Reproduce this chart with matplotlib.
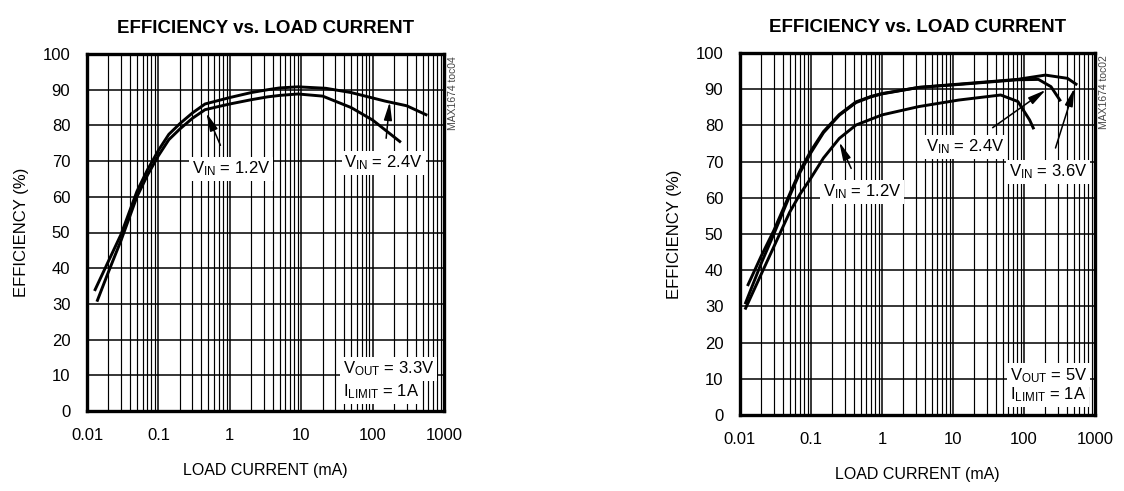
import numpy as np
import matplotlib
matplotlib.use('Agg')
import matplotlib.pyplot as plt
from matplotlib.ticker import LogLocator, NullFormatter, FixedLocator

#### Data ####

# left panel, VOUT = 3.3V
left_x_24 = [0.013, 0.02, 0.03, 0.05, 0.07, 0.1, 0.14, 0.2, 0.3, 0.45, 0.7, 1, 2, 3.4, 5, 9, 22, 50, 150, 300, 560]
left_y_24 = [34, 42, 49.5, 61.5, 67.5, 73, 77.5, 80.5, 83.5, 86, 87, 87.8, 89.2, 90, 90.5, 90.8, 90.4, 89.2, 86.8, 85.5, 83]
left_x_12 = [0.014, 0.02, 0.03, 0.05, 0.07, 0.1, 0.14, 0.2, 0.3, 0.45, 0.7, 1, 2, 3.4, 5, 9, 20, 50, 100, 240]
left_y_12 = [31, 39, 47.8, 60, 66, 71.5, 76, 79, 82, 84.4, 85.3, 86, 87.2, 88, 88.4, 88.8, 88.2, 85, 81.5, 75.5]

# right panel, VOUT = 5V
right_x_36 = [0.013, 0.02, 0.03, 0.05, 0.07, 0.1, 0.15, 0.25, 0.43, 0.7, 1, 3.3, 12, 80, 200, 410, 540]
right_y_36 = [36, 44, 51, 61, 67.5, 73, 78.3, 83, 86.5, 88, 88.8, 90.5, 91.4, 92.7, 93.9, 93, 91.4]
right_x_24 = [0.012, 0.02, 0.03, 0.05, 0.07, 0.1, 0.15, 0.25, 0.43, 0.7, 1, 3.3, 12, 80, 160, 240, 320]
right_y_24 = [31, 42, 50, 60.5, 67, 72.5, 78, 82.8, 86.3, 87.9, 88.7, 90.5, 91.3, 92.6, 92.7, 90.7, 87]
right_x_12 = [0.012, 0.02, 0.03, 0.05, 0.07, 0.1, 0.15, 0.25, 0.43, 1, 3.3, 12, 47, 82, 120, 135]
right_y_12 = [29.5, 39, 46.5, 56, 61, 65.5, 71, 76.4, 80.1, 82.9, 85.2, 87, 88.4, 86.6, 81.5, 79.3]

x_ticks = [0.01, 0.1, 1, 10, 100, 1000]
x_ticklabels = ['0.01', '0.1', '1', '10', '100', '1000']
y_ticks = list(range(0, 101, 10))

title = 'EFFICIENCY vs. LOAD CURRENT'

plt.rcParams['font.family'] = ['Liberation Sans', 'DejaVu Sans']
plt.rcParams['mathtext.default'] = 'regular'

fig = plt.figure(figsize=(11.24, 4.91), dpi=100)
ax1 = fig.add_axes([87 / 1124, 80 / 491, 357 / 1124, 357 / 491])
ax2 = fig.add_axes([740 / 1124, 76 / 491, 355 / 1124, 362 / 491])

box = dict(facecolor='white', edgecolor='none', pad=2)


def setup(ax, tag):
    ax.set_xscale('log')
    ax.set_xlim(0.01, 1000)
    ax.set_ylim(0, 100)
    ax.xaxis.set_major_locator(FixedLocator(x_ticks))
    ax.set_xticks(x_ticks)
    ax.set_xticklabels(x_ticklabels)
    ax.xaxis.set_minor_locator(LogLocator(base=10, subs=np.arange(2, 10), numticks=20))
    ax.xaxis.set_minor_formatter(NullFormatter())
    ax.set_yticks(y_ticks)
    ax.tick_params(which='both', length=0, labelsize=12, pad=12)
    ax.grid(which='major', color='black', lw=1.1)
    ax.grid(which='minor', axis='x', color='black', lw=0.85)
    for s in ax.spines.values():
        s.set_linewidth(2.4)
    ax.set_xlabel('LOAD CURRENT (mA)', fontsize=11.5, labelpad=15)
    ax.set_ylabel('EFFICIENCY (%)', fontsize=12, labelpad=10)
    ax.set_title(title, fontsize=13.5, fontweight='bold', pad=15)
    ax.text(1.025, 0.995, tag, transform=ax.transAxes, rotation=90, fontsize=7.5,
            color='#444444', ha='center', va='top')


def label(ax, text, xy, xytext):
    ax.annotate(text, xy=xy, xytext=xytext, fontsize=12, ha='center', va='center',
                bbox=box, zorder=5,
                arrowprops=dict(arrowstyle='-|>,head_width=0.2,head_length=0.9',
                                color='black', lw=1.1, shrinkA=9, shrinkB=0))


#### Left panel ####
setup(ax1, 'MAX1674 toc04')
ax1.plot(left_x_24, left_y_24, color='black', lw=2.1, zorder=4)
ax1.plot(left_x_12, left_y_12, color='black', lw=2.1, zorder=4)
label(ax1, r'V$_{IN}$ = 1.2V', (0.47, 83.5), (1.03, 67.8))
label(ax1, r'V$_{IN}$ = 2.4V', (174, 86.6), (143, 69.5))
ax1.text(0.717, 0.118, r'V$_{OUT}$ = 3.3V', transform=ax1.transAxes, fontsize=12,
         va='center', ha='left', bbox=box, zorder=5)
ax1.text(0.717, 0.053, r'I$_{LIMIT}$ = 1A', transform=ax1.transAxes, fontsize=12,
         va='center', ha='left', bbox=box, zorder=5)

#### Right panel ####
setup(ax2, 'MAX1674 toc02')
ax2.plot(right_x_36, right_y_36, color='black', lw=2.1, zorder=4)
ax2.plot(right_x_24, right_y_24, color='black', lw=2.1, zorder=4)
ax2.plot(right_x_12, right_y_12, color='black', lw=2.1, zorder=4)
label(ax2, r'V$_{IN}$ = 1.2V', (0.25, 75.4), (0.52, 61.6))
label(ax2, r'V$_{IN}$ = 2.4V', (203, 89.8), (14.9, 74))
label(ax2, r'V$_{IN}$ = 3.6V', (513, 90.3), (217, 67.1))
ax2.text(0.76, 0.11, r'V$_{OUT}$ = 5V', transform=ax2.transAxes, fontsize=12,
         va='center', ha='left', bbox=box, zorder=5)
ax2.text(0.76, 0.055, r'I$_{LIMIT}$ = 1A', transform=ax2.transAxes, fontsize=12,
         va='center', ha='left', bbox=box, zorder=5)

fig.savefig('out.png', dpi=100)
